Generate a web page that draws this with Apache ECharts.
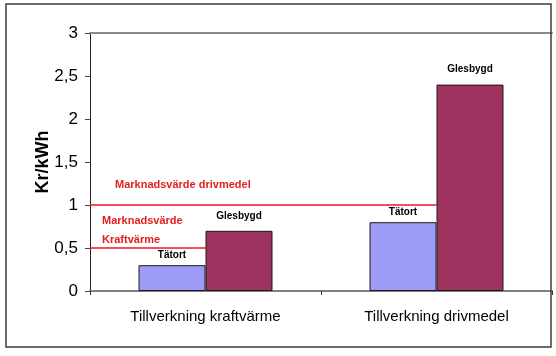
<!DOCTYPE html>
<html>
<head>
<meta charset="utf-8">
<script src="https://cdn.jsdelivr.net/npm/echarts@6/dist/echarts.min.js"></script>
<style>
html,body{margin:0;padding:0;background:#fff;}
#chart{width:556px;height:356px;}
</style>
</head>
<body>
<div id="chart"></div>
<script>
var categories = ['Tillverkning kraftvärme', 'Tillverkning drivmedel'];
var tatort = [0.3, 0.8];
var glesbygd = [0.7, 2.4];
var seriesNames = ['Tätort', 'Glesbygd'];
var yTicks = [0, 0.5, 1, 1.5, 2, 2.5, 3];
// reference levels (Kr/kWh) and where each line ends along the category span (0..2)
var refLevels = [0.5, 1.0];
var refEnds = [0.5, 1.5];
var refTexts = ['Marknadsvärde\nKraftvärme', 'Marknadsvärde drivmedel'];

var chart = echarts.init(document.getElementById('chart'));
var FONT = 'Liberation Sans, Arial, sans-serif';
var RED = '#E0201E';

var refSeries = refLevels.map(function (lv, i) {
  return {
    type: 'line',
    xAxisIndex: 1,
    yAxisIndex: 0,
    z: 1,
    symbol: 'none',
    silent: true,
    lineStyle: { color: '#F0141E', width: 1.5 },
    data: [[0, lv], [refEnds[i], lv]]
  };
});

var option = {
  animation: false,
  backgroundColor: '#fff',
  grid: { left: 90, right: 4, top: 33, bottom: 65 },
  xAxis: [{
    type: 'category',
    data: categories,
    axisLine: { lineStyle: { color: '#808080', width: 2 } },
    axisTick: { show: true, length: 4, lineStyle: { color: '#333' } },
    axisLabel: { fontFamily: FONT, fontSize: 15, color: '#000', margin: 18 }
  }, {
    type: 'value',
    position: 'top',
    min: 0, max: 2,
    axisLine: { show: true, lineStyle: { color: '#8a8a8a', width: 2 } },
    axisTick: { show: false },
    axisLabel: { show: false },
    splitLine: { show: false }
  }],
  yAxis: {
    type: 'value',
    min: yTicks[0], max: yTicks[yTicks.length - 1], interval: 0.5,
    name: 'Kr/kWh',
    nameLocation: 'middle',
    nameGap: 38,
    nameMoveOverlap: false,
    nameTextStyle: { fontFamily: FONT, fontSize: 18, fontWeight: 'bold', color: '#000' },
    axisLine: { show: true, lineStyle: { color: '#222', width: 1 } },
    axisTick: { show: true, length: 5, lineStyle: { color: '#444' } },
    axisLabel: {
      fontFamily: FONT, fontSize: 17, color: '#000', margin: 12,
      formatter: function (v) { return String(v).replace('.', ','); }
    },
    splitLine: { show: false }
  },
  series: [{
    name: seriesNames[0],
    type: 'bar',
    data: tatort,
    barWidth: 67,
    barGap: '0%',
    z: 3,
    itemStyle: { color: '#9C9CF8', borderColor: '#1a1a1a', borderWidth: 1 },
    label: {
      show: true, position: 'top', distance: 5,
      formatter: seriesNames[0],
      fontFamily: FONT, fontSize: 10, fontWeight: 'bold', color: '#000'
    }
  }, {
    name: seriesNames[1],
    type: 'bar',
    data: glesbygd,
    barWidth: 67,
    barGap: '0%',
    z: 3,
    itemStyle: { color: '#9E3360', borderColor: '#1a1a1a', borderWidth: 1 },
    label: {
      show: true, position: 'top', distance: 10,
      formatter: seriesNames[1],
      fontFamily: FONT, fontSize: 10, fontWeight: 'bold', color: '#000'
    }
  }].concat(refSeries),
  graphic: [{
    type: 'text',
    left: 115, top: 179,
    style: { text: refTexts[1], fill: RED, font: 'bold 11px ' + FONT }
  }, {
    type: 'text',
    left: 102, top: 211,
    style: { text: refTexts[0], fill: RED, font: 'bold 11px ' + FONT, lineHeight: 19 }
  }, {
    type: 'rect',
    z: 100,
    shape: { x: 6, y: 4, width: 545, height: 343 },
    style: { fill: 'none', stroke: '#3c3c3c', lineWidth: 1.5 }
  }]
};
chart.setOption(option);
</script>
</body>
</html>
